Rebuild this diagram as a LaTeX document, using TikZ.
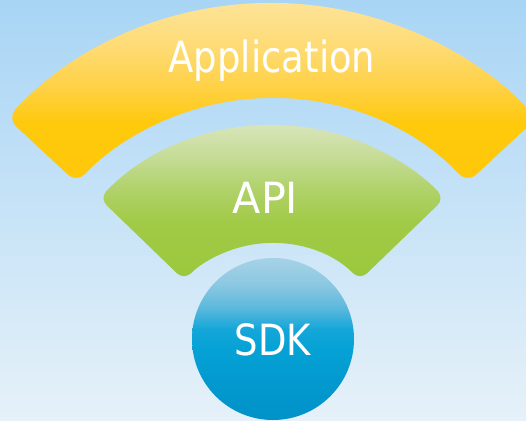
\documentclass[tikz,border=0pt]{standalone}
\usepackage{graphicx}
\usepackage{fontspec}
\newfontfamily\lblfont{DejaVu Sans}
\definecolor{bgtop}{HTML}{A8D5F5}
\definecolor{bgbot}{HTML}{E6F1F9}
\definecolor{appA}{HTML}{FFC80A}
\definecolor{appB}{HTML}{FFC90C}
\definecolor{appC}{HTML}{FFD040}
\definecolor{appD}{HTML}{FEDA70}
\definecolor{appE}{HTML}{FDE08C}
\definecolor{appF}{HTML}{FDE6A2}
\definecolor{apiA}{HTML}{9BC83C}
\definecolor{apiB}{HTML}{A1CA46}
\definecolor{apiC}{HTML}{B0D26A}
\definecolor{apiD}{HTML}{C6DC98}
\definecolor{apiE}{HTML}{D4E3B2}
\definecolor{apiF}{HTML}{DDE8C6}
\definecolor{sdkA}{HTML}{0092C8}
\definecolor{sdkB}{HTML}{0399CF}
\definecolor{sdkC}{HTML}{05A2D6}
\definecolor{sdkD}{HTML}{14A6D8}
\definecolor{sdkE}{HTML}{5FBADD}
\definecolor{sdkF}{HTML}{8CC8E2}
\definecolor{sdkG}{HTML}{A6D2E6}
\pgfdeclareverticalshading{appsh}{100bp}{
  color(0bp)=(appA); color(25bp)=(appA); color(40bp)=(appB);
  color(48bp)=(appC); color(58bp)=(appD); color(66bp)=(appE);
  color(75bp)=(appF); color(100bp)=(appF)}
\pgfdeclareverticalshading{apish}{100bp}{
  color(0bp)=(apiA); color(25bp)=(apiA); color(42bp)=(apiB);
  color(52bp)=(apiC); color(62bp)=(apiD); color(69bp)=(apiE);
  color(75bp)=(apiF); color(100bp)=(apiF)}
\pgfdeclareverticalshading{sdksh}{100bp}{
  color(0bp)=(sdkA); color(25bp)=(sdkA); color(37bp)=(sdkB);
  color(47bp)=(sdkC); color(53bp)=(sdkD); color(60bp)=(sdkE);
  color(67bp)=(sdkF); color(75bp)=(sdkG); color(100bp)=(sdkG)}
\tikzset{
  band/.style={rounded corners=12pt},
  lbl/.style={text=white, font=\lblfont\fontsize{43}{50}\selectfont, inner sep=0pt, anchor=base},
}
\begin{document}
\begin{tikzpicture}[x=1pt,y=1pt]
\useasboundingbox (0,0) rectangle (526,420);
\shade[top color=bgtop, bottom color=bgbot] (0,0) rectangle (526,420);
\begin{scope}[shift={(272,55)}]
  \shade[band, shading=appsh]
    (137:362) arc[start angle=137, end angle=43, radius=362]
    -- (43:267) arc[start angle=43, end angle=137, radius=267] -- cycle;
  \shade[band, rounded corners=10pt, shading=apish]
    (136:240) arc[start angle=136, end angle=44, radius=240]
    -- (44:122) arc[start angle=44, end angle=136, radius=122] -- cycle;
\end{scope}
\node[circle, minimum size=162pt, inner sep=0pt, shading=sdksh] (sdkc) at (273,81) {};
\node[lbl] (app) at (272,347.5) {\scalebox{0.86}[1]{Application}};
\node[lbl] (api) at (265.5,206) {\scalebox{0.96}[1]{API}};
\node[lbl] (sdk) at (273,65) {\scalebox{0.86}[1]{SDK}};
\end{tikzpicture}
\end{document}
